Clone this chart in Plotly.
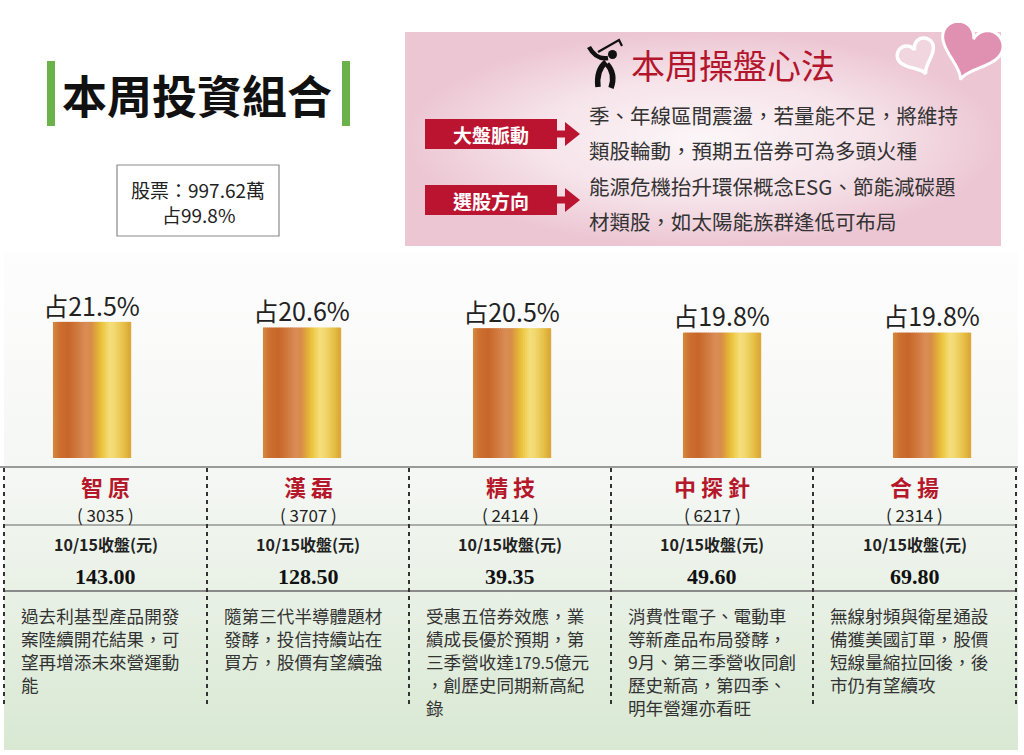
import numpy as np
import plotly.graph_objects as go

# ---- data ----
names = ["智原", "漢磊", "精技", "中探針", "合揚"]
codes = ["3035", "3707", "2414", "6217", "2314"]
shares = [21.5, 20.6, 20.5, 19.8, 19.8]
prices = [143.00, 128.50, 39.35, 49.60, 69.80]
close_label = "10/15收盤(元)"
notes = [
    ["過去利基型產品開發", "案陸續開花結果，可", "望再增添未來營運動", "能"],
    ["隨第三代半導體題材", "發酵，投信持續站在", "買方，股價有望續強"],
    ["受惠五倍券效應，業", "績成長優於預期，第", "三季營收達179.5億元", "，創歷史同期新高紀", "錄"],
    ["消費性電子、電動車", "等新產品布局發酵，", "9月、第三季營收同創", "歷史新高，第四季、", "明年營運亦看旺"],
    ["無線射頻與衛星通設", "備獲美國訂單，股價", "短線量縮拉回後，後", "市仍有望續攻"],
]
title = "本周投資組合"
stock_total = "股票：997.62萬"
stock_share = "占99.8%"
tips_title = "本周操盤心法"
tips_tags = ["大盤脈動", "選股方向"]
tips_lines = [
    ["季、年線區間震盪，若量能不足，將維持", "類股輪動，預期五倍券可為多頭火種"],
    ["能源危機抬升環保概念ESG、節能減碳題", "材類股，如太陽能族群逢低可布局"],
]

# ---- styling ----
CJK = "Noto Sans CJK TC"
RED = "#bb1430"
col_edges = [4, 207, 409, 611, 813, 1016]
col_mid = [(a + b) / 2 for a, b in zip(col_edges[:-1], col_edges[1:])]
bar_w = 0.367

# metallic look of the cylinders: colour stops across the bar width
gold_stops = [(0.00, "#d68a3e"), (0.08, "#cc7030"), (0.20, "#c8662a"), (0.32, "#d07a40"),
              (0.42, "#da8c58"), (0.50, "#d88c48"), (0.56, "#e0a83a"), (0.64, "#ecc63e"),
              (0.74, "#f4df7e"), (0.82, "#f0d56a"), (0.92, "#e6bf45"), (1.00, "#d9a636")]


def hex_rgb(h):
    return np.array([int(h[i:i + 2], 16) for i in (1, 3, 5)], dtype=float)


def gold_at(p):
    for (p0, c0), (p1, c1) in zip(gold_stops[:-1], gold_stops[1:]):
        if p <= p1:
            f = (p - p0) / (p1 - p0)
            r, g, b = hex_rgb(c0) * (1 - f) + hex_rgb(c1) * f
            return "rgb({:.0f},{:.0f},{:.0f})".format(r, g, b)
    return gold_stops[-1][1]


fig = go.Figure()

# background panels
fig.add_trace(go.Scatter(
    x=[4, 1018, 1018, 4, 4], y=[252, 252, 750, 750, 252], mode="lines",
    line=dict(width=0), fill="toself",
    fillgradient=dict(type="vertical", start=252, stop=750,
                      colorscale=[[0, "#fdfdfd"], [0.45, "#f5f7f4"], [1, "#d8e8d2"]]),
    hoverinfo="skip", showlegend=False))
fig.add_trace(go.Scatter(
    x=[405, 1001, 1001, 405, 405], y=[32, 32, 246, 246, 32], mode="lines",
    line=dict(width=0), fill="toself",
    fillgradient=dict(type="radial",
                      colorscale=[[0, "#fcf6f8"], [0.55, "#f6e4ea"], [1, "#ecc6d3"]]),
    hoverinfo="skip", showlegend=False))

# cylinder bars, drawn as thin vertical stripes of the same bars
n = 40
for i in range(n):
    fig.add_trace(go.Bar(
        x=names, y=shares, width=bar_w / n * 1.6, offset=-bar_w / 2 + i * bar_w / n,
        marker=dict(color=gold_at((i + 0.5) / n), line=dict(width=0)),
        xaxis="x2", yaxis="y2", hoverinfo="skip", showlegend=False))

fig.add_trace(go.Scatter(
    x=names, y=shares, mode="text", text=["占{}%".format(v) for v in shares],
    textposition="top center", textfont=dict(family=CJK, size=25, color="#222"),
    xaxis="x2", yaxis="y2", hoverinfo="skip", showlegend=False))

shapes = []
ann = []


def add_text(x, y, text, size, color="#333", family=CJK, xanchor="center", yanchor="middle"):
    ann.append(dict(x=x, y=y, xref="x", yref="y", text=text, showarrow=False,
                    xanchor=xanchor, yanchor=yanchor, align="left",
                    font=dict(family=family, size=size, color=color)))


def rect(x0, y0, x1, y1, fill, line_color=None, lw=0):
    shapes.append(dict(type="rect", xref="x", yref="y", x0=x0, y0=y0, x1=x1, y1=y1,
                       fillcolor=fill, line=dict(color=line_color or fill, width=lw)))


def heart(cx, cy, width, angle):
    t = np.linspace(0, 2 * np.pi, 80)
    hx = 16 * np.sin(t) ** 3
    hy = -(13 * np.cos(t) - 5 * np.cos(2 * t) - 2 * np.cos(3 * t) - np.cos(4 * t)) + 2.5
    a = np.radians(angle)
    s = width / 32
    px = cx + s * (hx * np.cos(a) - hy * np.sin(a))
    py = cy + s * (hx * np.sin(a) + hy * np.cos(a))
    return "M " + " L ".join("{:.1f},{:.1f}".format(u, v) for u, v in zip(px, py)) + " Z"


# title block
rect(47, 61, 55, 126, "#6cb24a")
rect(342, 61, 350, 126, "#6cb24a")
add_text(197, 94, "<b>{}</b>".format(title), 45, "#111")
rect(117, 165, 279, 236, "white", "#8a8a8a", 1.2)
add_text(198, 189, stock_total, 19, "#222")
add_text(198, 214, stock_share, 19, "#222")

# hearts
shapes.append(dict(type="path", xref="x", yref="y", path=heart(916, 53, 38, -25),
                   fillcolor="#f1d6df", line=dict(color="white", width=3.5)))
shapes.append(dict(type="path", xref="x", yref="y", path=heart(972, 44, 62, 18),
                   fillcolor="#e090b0", line=dict(color="white", width=3)))

# golfer icon
for p, w in [("M 589,47 Q 596,60 608,58", 4.5), ("M 598,52 L 619,40 L 622,46", 2.2),
             ("M 606,62 Q 596,70 598,87", 5.5), ("M 607,64 Q 616,74 611,88", 5.5)]:
    shapes.append(dict(type="path", xref="x", yref="y", path=p,
                       line=dict(color="#111", width=w)))
shapes.append(dict(type="circle", xref="x", yref="y", x0=608, y0=50, x1=617, y1=59,
                   fillcolor="#111", line=dict(width=0)))
add_text(733, 64, tips_title, 34, "#b3162c")

# strategy rows
for k, tag in enumerate(tips_tags):
    yc = 134 + k * 66
    rect(425, yc - 15, 557, yc + 15, RED)
    add_text(491, yc, "<b>{}</b>".format(tag), 19, "white")
    rect(557, yc - 3.5, 567, yc + 3.5, RED)
    shapes.append(dict(type="path", xref="x", yref="y",
                       path="M 565,{} L 580,{} L 565,{} Z".format(yc - 12, yc, yc + 12),
                       fillcolor=RED, line=dict(width=0)))
    for j, line in enumerate(tips_lines[k]):
        add_text(587, 115 + k * 71 + j * 35, line, 20.5, "#333", xanchor="left")

# table lines
shapes.append(dict(type="line", xref="x", yref="y", x0=0, x1=1018, y0=467, y1=467,
                   line=dict(color="#9a9a9a", width=2)))
shapes.append(dict(type="line", xref="x", yref="y", x0=4, x1=1016, y0=525, y1=525,
                   line=dict(color="#666", width=1)))
shapes.append(dict(type="line", xref="x", yref="y", x0=4, x1=1016, y0=591, y1=591,
                   line=dict(color="#8a8a8a", width=2)))
for xe in col_edges:
    shapes.append(dict(type="line", xref="x", yref="y", x0=xe, x1=xe, y0=468, y1=708,
                       line=dict(color="#333", width=2, dash="4px,4px")))

# table text
for i, name in enumerate(names):
    cx = col_mid[i]
    add_text(cx, 486, "<b>{}</b>".format(" ".join(name)), 22, "#b5182b")
    add_text(cx, 514, "( {} )".format(codes[i]), 17, "#222")
    add_text(cx, 544, "<b>{}</b>".format(close_label), 16, "#222")
    add_text(cx, 576, "<b>{:.2f}</b>".format(prices[i]), 22, "#111", family="Liberation Serif")
    text = "<br>".join(notes[i]).replace("179.5", "<span style='font-size:16px'>179.5</span>")
    add_text(col_edges[i] + 15, 601, text, 17.6, "#333", xanchor="left", yanchor="top")

fig.update_layout(
    width=1024, height=755, margin=dict(l=0, r=0, t=0, b=0),
    paper_bgcolor="white", plot_bgcolor="white", barmode="overlay",
    showlegend=False, shapes=shapes, annotations=ann,
    xaxis=dict(range=[0, 1024], visible=False, fixedrange=True),
    yaxis=dict(range=[755, 0], visible=False, fixedrange=True),
    xaxis2=dict(type="category", overlaying="x", range=[-91.5 / 210, (1024 - 91.5) / 210],
                visible=False, fixedrange=True),
    yaxis2=dict(overlaying="y", range=[-(755 - 458) / 6.33, 458 / 6.33],
                visible=False, fixedrange=True),
)

fig.write_html("out.html", config={"displayModeBar": False},
               post_script="document.body.style.margin='0';")
